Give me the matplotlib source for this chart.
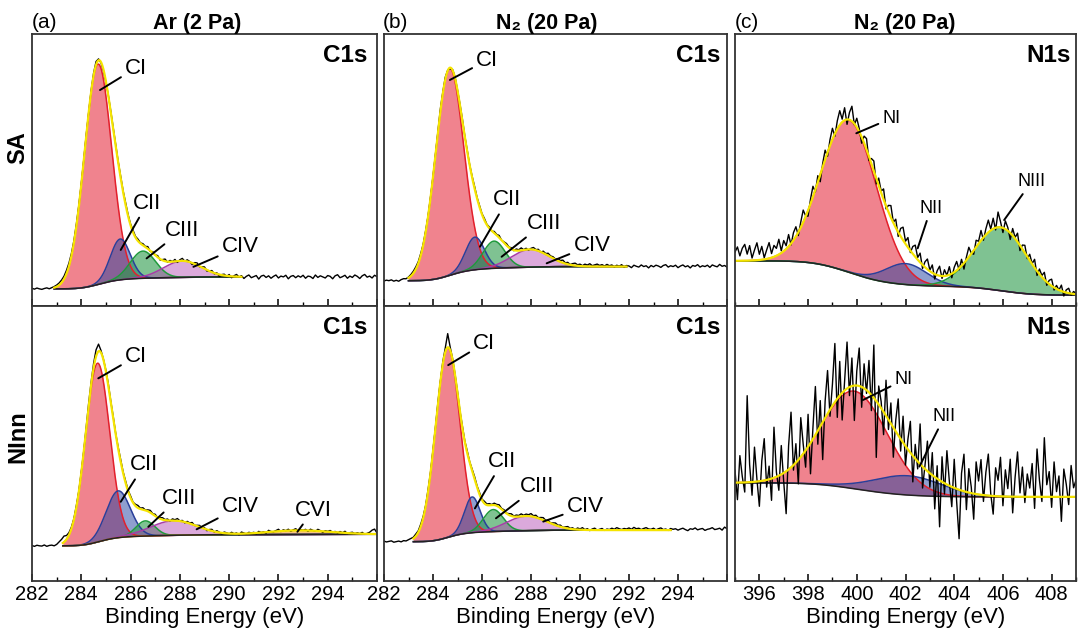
import math
import numpy as np
import matplotlib
matplotlib.use("Agg")
import matplotlib.pyplot as plt
from matplotlib.ticker import MultipleLocator

plt.rcParams['font.family'] = ['Liberation Sans', 'DejaVu Sans']

# ---- energy grids (eV) ----
c1s_x = np.round(np.arange(282.0, 296.01, 0.1), 1)
n1s_x = np.round(np.arange(395.0, 409.01, 0.1), 1)

# ---- fitted components: centre (eV), FWHM (eV), height (a.u., 0-100 per panel) ----
# (a) Ar 2 Pa, SA
a_sa_centers = [284.68, 285.58, 286.50, 288.10]
a_sa_fwhm = [1.30, 0.95, 1.20, 1.80]
a_sa_heights = [81.0, 15.0, 10.0, 6.0]
a_sa_bg = (6.3, 10.7)
a_sa_range = (282.9, 290.5)
# (a) Ar 2 Pa, NInn
a_ni_centers = [284.66, 285.50, 286.60, 287.75, 292.80]
a_ni_fwhm = [1.15, 1.15, 0.90, 2.20, 3.00]
a_ni_heights = [65.0, 17.0, 5.5, 5.3, 1.5]
a_ni_bg = (12.8, 17.0)
a_ni_range = (283.25, 296.0)
# (b) N2 20 Pa, SA
b_sa_centers = [284.68, 285.71, 286.49, 287.96]
b_sa_fwhm = [1.35, 0.90, 1.05, 1.80]
b_sa_heights = [76.0, 12.0, 10.0, 6.5]
b_sa_bg = (9.3, 14.5)
b_sa_range = (283.0, 291.9)
# (b) N2 20 Pa, NInn
b_ni_centers = [284.60, 285.60, 286.46, 287.82]
b_ni_fwhm = [1.15, 0.75, 0.95, 1.90]
b_ni_heights = [69.0, 13.0, 8.0, 5.3]
b_ni_bg = (14.3, 18.5)
b_ni_range = (283.2, 293.7)
# (c) N1s, SA
c_sa_centers = [399.68, 402.03, 405.90]
c_sa_fwhm = [2.70, 2.00, 2.50]
c_sa_heights = [56.0, 7.7, 23.3]
c_sa_bg = (16.6, 4.0)
c_sa_range = (395.0, 409.0)
# (c) N1s, NInn
c_ni_centers = [399.90, 402.10]
c_ni_fwhm = [3.20, 3.30]
c_ni_heights = [35.5, 7.0]
c_ni_bg = (35.7, 30.6)
c_ni_range = (395.0, 409.0)

c_colours = ['red', 'blue', 'green', 'magenta', 'orange']
n_colours_sa = ['red', 'blue', 'green']
n_colours_ni = ['red', 'blue']

a_sa_resid = [0.2, -0.1, 0.3, 0.0, -0.2, 0.1, 0.3, -0.1, 0.2, 0.4,
              0.6, 0.8, 1.0, 1.1, 1.3, 1.2, 1.0, 0.8, 0.9, 0.6,
              0.4, 0.3, 0.5, 0.2, 0.6, 0.9, 1.2, 0.5, -0.3, -0.5,
              -0.4, 0.2, 0.4, 0.5, 0.6, 0.4, 0.7, 0.5, 0.8, 0.6,
              0.5, 0.8, 0.4, 0.7, 0.2, 0.6, 0.2, 0.8, -0.3, 0.5,
              0.1, 0.6, -0.4, 0.3, 0.8, -0.2, 0.5, 0.0, 0.7, -0.5,
              0.4, 0.9, -0.1, 0.6, 0.2, -0.6, 0.5, 0.8, -0.2, 0.3,
              0.7, -0.4, 0.1, 0.6, -0.3, 0.4, -0.7, 0.2, 0.5, -0.2,
              0.6, -0.5, 0.3, 0.8, -0.1, 0.4, -0.6, 0.2, 0.7, -0.3,
              0.1, 0.5, -0.8, 0.3, 0.6, -0.2, 0.4, -0.5, 0.2, 0.7,
              -0.4, 0.3, 0.0, 0.6, -0.7, 0.2, 0.5, -0.3, 0.4, -0.1,
              0.6, -0.5, 0.3, 0.1, -0.6, 0.7, -0.2, 0.4, 0.0, -0.4,
              0.5, 0.2, -0.7, 0.4, 0.8, -0.3, 0.1, 0.6, -0.5, 0.3,
              -0.2, 0.7, 0.2, -0.6, 0.4, 0.9, -0.1, 0.3, -0.4, 0.6,
              0.1]
a_ni_resid = [0.1, -0.2, 0.2, 0.0, -0.1, 0.3, -0.2, 0.1, 0.2, -0.1,
              0.3, 1.0, 1.6, 2.2, 1.4, 0.9, 0.6, 0.4, 0.7, 0.3,
              0.5, 0.2, 0.6, 0.9, 1.0, 1.6, 2.4, 2.6, 0.8, 0.2,
              0.5, 0.8, 0.4, 0.7, 0.3, 0.6, 0.9, 0.5, 0.8, 0.4,
              0.7, 0.2, 0.6, 0.9, 0.3, 0.7, 0.1, 0.5, 0.8, 0.2,
              0.6, -0.1, 0.4, 0.7, 0.2, 0.5, -0.2, 0.6, 0.3, 0.8,
              0.1, 0.4, -0.3, 0.5, 0.2, 0.7, -0.1, 0.3, 0.6, 0.0,
              0.4, -0.4, 0.3, 0.6, -0.2, 0.5, 0.1, -0.3, 0.4, 0.2,
              -0.1, 0.5, 0.0, 0.3, -0.4, 0.6, 0.2, -0.2, 0.4, 0.1,
              0.3, -0.3, 0.5, 0.0, 0.2, -0.4, 0.6, 0.1, -0.1, 0.3,
              0.7, -0.2, 0.4, 0.0, 0.5, -0.3, 0.2, 0.6, -0.1, 0.3,
              0.0, 0.4, -0.3, 0.5, 0.1, -0.2, 0.6, 0.2, -0.4, 0.3,
              0.1, 0.5, -0.1, 0.3, -0.3, 0.4, 0.0, 0.6, -0.2, 0.2,
              0.4, -0.1, 0.3, 0.0, 0.5, -0.2, 0.2, 0.6, 1.4, 1.8,
              0.4]
b_sa_resid = [-0.1, 0.2, 0.0, 0.3, -0.2, 0.1, -0.3, 0.2, 0.4, 0.1,
              0.3, 0.6, 0.8, 0.9, 0.7, 0.8, 0.5, 0.6, 0.3, 0.4,
              0.2, 0.5, 0.8, 1.1, 0.6, 0.9, 0.2, -0.4, 0.3, 0.5,
              0.1, 0.4, 0.7, 0.3, 0.6, 0.2, 0.5, 0.8, 0.4, 0.6,
              0.3, 0.7, 0.2, 0.5, -0.1, 0.6, 0.3, 0.8, 0.0, 0.4,
              0.7, 0.2, 0.5, -0.2, 0.6, 0.3, 0.9, 0.1, 0.5, -0.3,
              0.4, 0.8, 0.2, 0.6, -0.1, 0.7, 0.3, 0.9, 0.4, 0.6,
              0.2, 0.8, 0.5, 1.0, 0.3, 0.7, 0.1, 0.6, 0.9, 0.4,
              0.7, 0.2, 0.8, 0.5, 1.0, 0.3, 0.6, 0.9, 0.4, 0.7,
              0.2, 0.8, 0.3, 0.6, -0.2, 0.5, 0.1, 0.7, -0.3, 0.4,
              0.2, -0.4, 0.5, 0.1, -0.2, 0.6, 0.0, 0.3, -0.5, 0.4,
              -0.1, 0.5, 0.2, -0.3, 0.4, 0.7, -0.2, 0.3, 0.0, 0.5,
              -0.4, 0.2, 0.6, -0.1, 0.3, -0.5, 0.4, 0.1, 0.7, -0.2,
              0.3, 0.0, 0.5, -0.3, 0.6, 0.2, -0.1, 0.8, 0.1, 0.4,
              -0.2]
b_ni_resid = [0.2, -0.1, 0.1, 0.3, -0.2, 0.0, 0.2, -0.1, 0.3, 0.1,
              0.4, 0.6, 0.5, 0.8, 0.6, 0.9, 0.7, 0.5, 0.8, 0.4,
              0.6, 0.3, 0.7, 0.4, 0.9, 1.5, 5.0, 1.2, 0.5, 0.3,
              0.6, 0.2, 0.7, 0.4, 0.8, 0.3, 0.6, 0.9, 0.5, 0.7,
              0.3, 0.8, 0.4, 0.6, 0.2, 0.7, 0.5, 0.9, 0.3, 0.6,
              0.1, 0.5, 0.8, 0.2, 0.6, 0.4, 0.9, 0.3, 0.7, 0.5,
              1.0, 0.4, 0.8, 0.2, 0.6, 0.9, 0.3, 0.7, 0.1, 0.5,
              0.8, 0.3, 0.6, 0.0, 0.4, 0.7, 0.2, 0.5, -0.1, 0.6,
              0.3, 0.8, 0.1, 0.5, -0.2, 0.4, 0.7, 0.0, 0.3, 0.6,
              -0.1, 0.4, 0.2, 0.7, 0.3, 0.9, 0.5, 0.2, 0.6, 0.4,
              0.8, 0.3, 1.0, 0.5, 0.7, 0.2, 0.6, 0.9, 0.4, 0.3,
              0.7, 0.1, 0.5, 0.8, 0.2, 0.4, -0.1, 0.6, 0.3, 0.5,
              0.0, 0.4, 0.7, 0.2, -0.2, 0.5, 0.3, 0.8, 0.1, 0.4,
              0.6, -0.1, 0.3, 0.5, 0.9, 0.2, 0.4, 0.7, 0.0, 1.1,
              0.5]
c_sa_resid = [3.2, 5.1, 1.8, 4.6, 6.0, 2.4, 5.5, 0.9, 3.8, 6.4,
              2.1, 4.9, 0.6, 3.3, 5.8, 1.5, 4.2, 2.7, 5.6, 0.8,
              3.9, 1.2, 4.4, -0.5, 2.8, 3.6, -1.2, 2.0, 4.5, 0.3,
              -2.1, 1.7, 3.9, -0.8, 2.4, -2.6, 1.3, 3.5, -1.4, 2.2,
              4.1, -0.9, 3.0, 5.3, 1.1, 4.6, -1.8, 2.7, 5.5, -0.4,
              3.3, 1.2, -2.3, 2.5, 4.0, -1.5, 1.9, 3.7, -2.0, 2.8,
              0.6, 3.9, -1.1, 2.4, 4.4, 0.2, 3.1, -1.6, 2.9, 4.8,
              1.0, 3.6, -0.7, 2.7, 4.3, 0.8, 3.4, -1.3, 2.0, 3.8,
              0.4, 2.9, -1.8, 1.6, 3.5, -0.9, 2.3, 0.1, 3.0, -1.5,
              1.8, 3.3, -0.6, 2.4, -2.2, 1.1, 3.6, 0.3, -1.4, 2.5,
              0.9, 3.7, -1.0, 2.2, 4.5, 0.5, 3.9, -0.8, 5.6, 2.1,
              -1.7, 3.0, 1.2, -2.4, 2.6, 0.4, 3.2, -1.9, 1.5, 2.8,
              -0.7, 2.3, 0.2, 3.1, -1.6, 1.9, 0.6, 2.7, -1.2, 1.4,
              2.5, -0.9, 1.3, 0.0, 2.2, -1.5, 1.0, 1.8, -0.6, 0.9,
              0.3]
c_ni_resid = [4.5, -6.2, 9.8, 2.1, -3.5, 31.5, 6.4, -4.8, 12.6, 0.9,
              -9.1, 7.3, 15.2, -2.6, 4.8, -7.9, 18.4, 1.7, -5.3, 10.5,
              -3.2, -15.4, 8.6, 20.1, -1.8, 6.9, -8.7, 14.3, 3.5, -6.1,
              11.8, -11.2, 4.2, 17.6, -4.9, 9.4, -13.6, 6.1, 15.7, -2.4,
              7.8, 21.3, -6.8, 12.4, -9.9, 3.6, 16.9, -3.1, 10.2, -12.7,
              5.3, 13.8, -7.4, 8.9, -1.2, 11.6, -5.7, 19.2, -20.5, 6.7,
              2.4, -8.3, 12.9, -3.6, 7.5, -10.8, 4.1, 13.2, -4.4, 9.6,
              -6.9, 3.8, 11.4, -9.5, 5.2, -2.7, 14.6, -7.8, 1.3, 10.9,
              -5.1, 8.2, -11.6, 4.7, -16.9, 9.1, -3.9, 12.3, 1.6, -7.2,
              10.4, -4.6, -17.8, 6.3, 13.5, -6.4, 8.7, 2.2, -9.3, 11.7,
              4.9, 12.8, -2.3, 8.4, 15.1, 0.7, -6.6, 10.3, 5.8, 14.2,
              -3.4, 9.7, 2.9, 13.6, -5.9, 7.1, 16.3, 1.4, 10.8, -2.1,
              8.3, 3.2, 12.1, -4.2, 17.4, 6.0, -1.7, 21.5, 4.4, 9.2,
              -3.8, 12.7, 1.9, 7.6, -8.9, 10.1, 4.6, -2.8, 11.4, 3.3,
              6.1]

LINE = {'red': '#e3202c', 'blue': '#2a3f9a', 'green': '#1f9a3c',
        'magenta': '#a83ca8', 'orange': '#e08a1e'}
FILL = {'red': ('#e41e32', 0.55), 'blue': ('#2040a0', 0.5), 'green': ('#2a9a4a', 0.6),
        'magenta': ('#b040b0', 0.45), 'orange': ('#f0a030', 0.6)}


def gauss(x, c, w, h):
    s = w / 2.3548
    return h * np.exp(-(x - c) ** 2 / (2 * s * s))


def gauss_cum(x, c, w, h):
    s = w / 2.3548
    return np.array([h * s * 0.5 * (1 + math.erf((v - c) / (s * math.sqrt(2))))
                     for v in np.atleast_1d(x)])


def shirley(x, centers, fwhm, heights, bg, fit):
    xc = np.clip(x, fit[0], fit[1])
    area = lambda v: sum(gauss_cum(v, c, w, h) for c, w, h in zip(centers, fwhm, heights))
    lo, hi = area(fit[0])[0], area(fit[1])[0]
    return bg[0] + (bg[1] - bg[0]) * (area(xc) - lo) / (hi - lo)


def draw_spectrum(ax, x_data, resid, centers, fwhm, heights, colours, bg, fit):
    xf = np.linspace(fit[0], fit[1], 700)
    base = shirley(xf, centers, fwhm, heights, bg, fit)
    total = base.copy()
    for c, w, h, col in zip(centers, fwhm, heights, colours):
        comp = gauss(xf, c, w, h)
        fc, fa = FILL[col]
        ax.fill_between(xf, base, base + comp, color=fc, alpha=fa, lw=0)
        ax.plot(xf, base + comp, color=LINE[col], lw=1.1)
        total += comp
    ax.plot(xf, base, color='#222222', lw=1.1)
    model = shirley(x_data, centers, fwhm, heights, bg, fit)
    for c, w, h in zip(centers, fwhm, heights):
        model = model + gauss(x_data, c, w, h)
    ax.plot(x_data, model + np.array(resid), color='black', lw=1.0)
    ax.plot(xf, total, color='#f5e400', lw=1.6)


def label(ax, text, xytext, xy, size):
    ax.annotate(text, xy=xy, xytext=xytext, fontsize=size, ha='left', va='center',
                arrowprops=dict(arrowstyle='-', color='black', lw=1.4, shrinkA=1, shrinkB=0))


def style_axis(ax, xlim, show_labels, hide_last=False):
    ax.set_xlim(*xlim)
    ax.set_ylim(0, 100)
    ax.set_yticks([])
    ax.xaxis.set_major_locator(MultipleLocator(2))
    ax.xaxis.set_minor_locator(MultipleLocator(1))
    ax.tick_params(axis='x', which='major', direction='in', length=5, width=1.1,
                   labelsize=14.5, pad=3, labelbottom=show_labels)
    ax.tick_params(axis='x', which='minor', direction='in', length=3, width=1.0)
    for sp in ax.spines.values():
        sp.set_color('#333333')
        sp.set_linewidth(1.3)
    if show_labels:
        ax.set_xlabel('Binding Energy (eV)', fontsize=16, labelpad=2)
        ticks = ax.get_xticks()
        fmt = []
        for t in ticks:
            s = '%d' % round(t)
            if hide_last and abs(t - xlim[1]) < 1e-6:
                s = ''
            fmt.append(s)
        ax.set_xticks(ticks)
        ax.set_xticklabels(fmt)
        ax.set_xlim(*xlim)


fig = plt.figure(figsize=(10.78, 6.33), dpi=100)
W, H = 1078.0, 633.0
cols = [(32, 345), (384, 343), (735, 341)]
rows = [(34, 272), (306, 275)]
axes = {}
for r, (top, hgt) in enumerate(rows):
    for c, (left, wid) in enumerate(cols):
        axes[(r, c)] = fig.add_axes([left / W, 1 - (top + hgt) / H, wid / W, hgt / H])

# (a) Ar
ax = axes[(0, 0)]
draw_spectrum(ax, c1s_x, a_sa_resid, a_sa_centers, a_sa_fwhm, a_sa_heights, c_colours, a_sa_bg, a_sa_range)
style_axis(ax, (282, 296), False)
label(ax, 'CI', (285.77, 87.5), (284.76, 79.4), 16)
label(ax, 'CII', (286.11, 37.8), (285.6, 20.6), 16)
label(ax, 'CIII', (287.4, 27.9), (286.65, 17.5), 16)
label(ax, 'CIV', (289.7, 21.8), (288.55, 14.4), 16)

ax = axes[(1, 0)]
draw_spectrum(ax, c1s_x, a_ni_resid, a_ni_centers, a_ni_fwhm, a_ni_heights, c_colours, a_ni_bg, a_ni_range)
style_axis(ax, (282, 296), True, hide_last=True)
label(ax, 'CI', (285.77, 81.6), (284.69, 73.7), 16)
label(ax, 'CII', (285.98, 42.2), (285.6, 28.8), 16)
label(ax, 'CIII', (287.26, 30.1), (286.72, 19.7), 16)
label(ax, 'CIV', (289.7, 27.0), (288.68, 18.8), 16)
label(ax, 'CVI', (292.67, 25.8), (292.77, 17.9), 16)

# (b) N2 C1s
ax = axes[(0, 1)]
draw_spectrum(ax, c1s_x, b_sa_resid, b_sa_centers, b_sa_fwhm, b_sa_heights, c_colours, b_sa_bg, b_sa_range)
style_axis(ax, (282, 296), False)
label(ax, 'CI', (285.76, 90.4), (284.69, 83.1), 16)
label(ax, 'CII', (286.46, 39.0), (285.92, 21.8), 16)
label(ax, 'CIII', (287.82, 30.4), (286.8, 18.1), 16)
label(ax, 'CIV', (289.73, 22.4), (288.64, 15.7), 16)

ax = axes[(1, 1)]
draw_spectrum(ax, c1s_x, b_ni_resid, b_ni_centers, b_ni_fwhm, b_ni_heights, c_colours, b_ni_bg, b_ni_range)
style_axis(ax, (282, 296), True, hide_last=True)
label(ax, 'CI', (285.64, 86.4), (284.62, 78.5), 16)
label(ax, 'CII', (286.26, 43.4), (285.71, 26.4), 16)
label(ax, 'CIII', (287.55, 34.3), (286.57, 22.8), 16)
label(ax, 'CIV', (289.46, 27.0), (288.5, 21.6), 16)

# (c) N2 N1s
ax = axes[(0, 2)]
draw_spectrum(ax, n1s_x, c_sa_resid, c_sa_centers, c_sa_fwhm, c_sa_heights, n_colours_sa, c_sa_bg, c_sa_range)
style_axis(ax, (395, 409), False)
label(ax, 'NI', (401.05, 69.0), (399.98, 63.5), 13)
label(ax, 'NII', (402.57, 35.9), (402.5, 21.2), 13)
label(ax, 'NIII', (406.6, 45.7), (406.05, 31.6), 13)

ax = axes[(1, 2)]
draw_spectrum(ax, n1s_x, c_ni_resid, c_ni_centers, c_ni_fwhm, c_ni_heights, n_colours_ni, c_ni_bg, c_ni_range)
style_axis(ax, (395, 409), True)
label(ax, 'NI', (401.55, 73.1), (400.25, 65.8), 13)
label(ax, 'NII', (403.12, 59.7), (402.57, 41.6), 13)

# core level tags
for (r, c), name, xpos in [((0, 0), 'C1s', 0.972), ((1, 0), 'C1s', 0.972),
                           ((0, 1), 'C1s', 0.98), ((1, 1), 'C1s', 0.98),
                           ((0, 2), 'N1s', 0.986), ((1, 2), 'N1s', 0.986)]:
    axes[(r, c)].text(xpos, 0.92, name, transform=axes[(r, c)].transAxes,
                      ha='right', va='center', fontsize=17.5, fontweight='bold')

# column headers and row labels
ty = 1 - 23 / H
fig.text(32 / W, ty, '(a)', fontsize=15, ha='left', va='center')
fig.text(197 / W, ty, 'Ar (2 Pa)', fontsize=15.5, fontweight='bold', ha='center', va='center')
fig.text(383 / W, ty, '(b)', fontsize=15, ha='left', va='center')
fig.text(547 / W, ty, 'N₂ (20 Pa)', fontsize=15.5, fontweight='bold', ha='center', va='center')
fig.text(735 / W, ty, '(c)', fontsize=15, ha='left', va='center')
fig.text(905 / W, ty, 'N₂ (20 Pa)', fontsize=15.5, fontweight='bold', ha='center', va='center')
fig.text(18 / W, 1 - 148 / H, 'SA', fontsize=17, fontweight='bold', rotation=90, ha='center', va='center')
fig.text(18 / W, 1 - 437 / H, 'NInn', fontsize=17, fontweight='bold', rotation=90, ha='center', va='center')

fig.savefig('out.png', dpi=100)
